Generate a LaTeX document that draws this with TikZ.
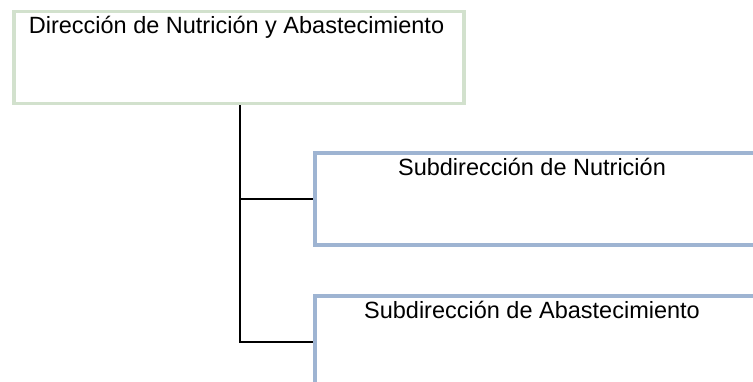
\documentclass[tikz,border=0pt]{standalone}
\usepackage{fontspec}
\setmainfont{Liberation Sans}
\definecolor{boxgreen}{RGB}{210,225,205}
\definecolor{boxblue}{RGB}{158,180,210}
\begin{document}
\begin{tikzpicture}[x=1pt,y=1pt,
  orgbox/.style={draw, line width=3.5pt, minimum width=#1, minimum height=92pt, inner sep=0pt, anchor=north west},
  boxtext/.style={anchor=base, inner sep=0pt, font=\fontsize{23.5}{27}\selectfont},
  conn/.style={draw=black, line width=2.2pt}]
\useasboundingbox (0,0) rectangle (753,-381);
\node[orgbox=450pt, draw=boxgreen] (top) at (12,-9.5) {};
\node[orgbox=446pt, draw=boxblue] (b2) at (313,-151) {};
\node[orgbox=446pt, draw=boxblue] (b3) at (313,-294) {};
\node[boxtext] (t1) at (236.5,-33) {Dirección de Nutrición y Abastecimiento};
\node[boxtext] (t2) at (532,-175) {Subdirección de Nutrición};
\node[boxtext] (t3) at (532,-318) {Subdirección de Abastecimiento};
\draw[conn] ([xshift=1pt]top.south) |- (b3.west);
\draw[conn] ([xshift=1pt]top.south |- b2.west) -- (b2.west);
\end{tikzpicture}
\end{document}
